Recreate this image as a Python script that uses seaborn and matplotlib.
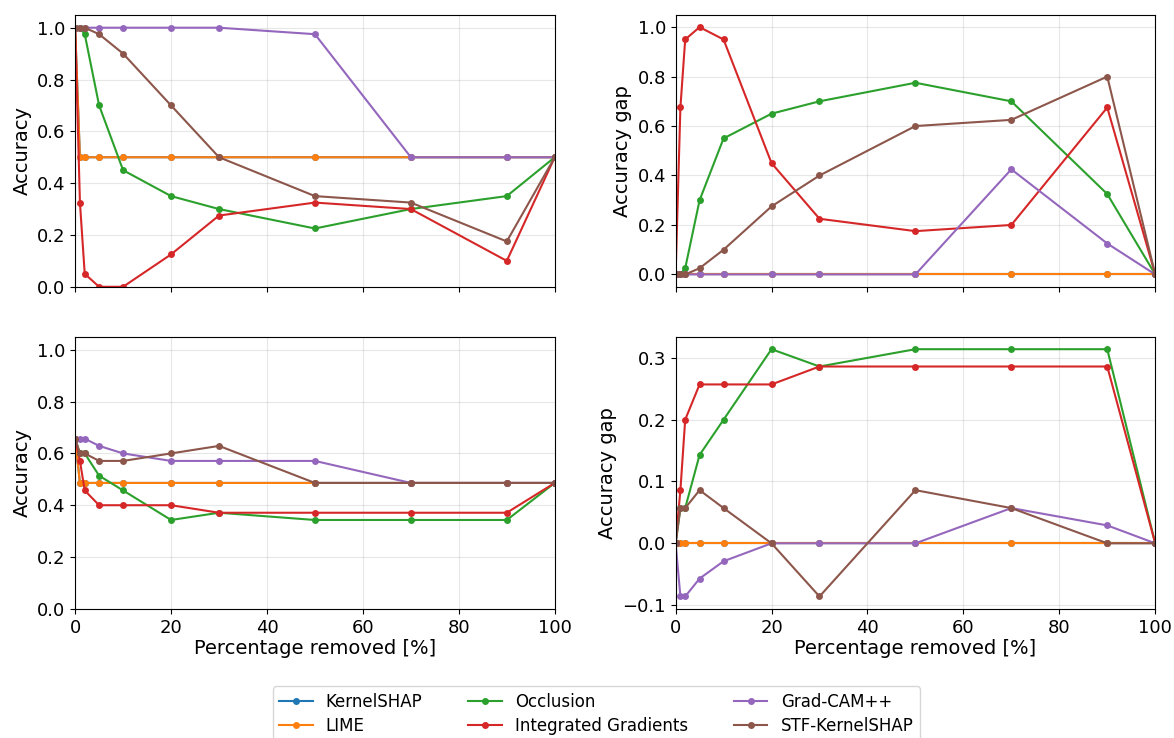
import numpy as np
import pandas as pd
import seaborn as sns
import matplotlib.pyplot as plt

# x positions (percentage of features removed)
pct = [0, 1, 2, 5, 10, 20, 30, 50, 70, 90, 100]
methods = ['KernelSHAP', 'LIME', 'Occlusion', 'Integrated Gradients', 'Grad-CAM++', 'STF-KernelSHAP']

# top-left: accuracy
acc_top = {
    'KernelSHAP': [1.0, 0.5, 0.5, 0.5, 0.5, 0.5, 0.5, 0.5, 0.5, 0.5, 0.5],
    'LIME': [1.0, 0.5, 0.5, 0.5, 0.5, 0.5, 0.5, 0.5, 0.5, 0.5, 0.5],
    'Occlusion': [1.0, 1.0, 0.975, 0.7, 0.45, 0.35, 0.3, 0.225, 0.3, 0.35, 0.5],
    'Integrated Gradients': [1.0, 0.325, 0.05, 0.0, 0.0, 0.125, 0.275, 0.325, 0.3, 0.1, 0.5],
    'Grad-CAM++': [1.0, 1.0, 1.0, 1.0, 1.0, 1.0, 1.0, 0.975, 0.5, 0.5, 0.5],
    'STF-KernelSHAP': [1.0, 1.0, 1.0, 0.975, 0.9, 0.7, 0.5, 0.35, 0.325, 0.175, 0.5],
}

# top-right: accuracy gap
gap_top = {
    'KernelSHAP': [0, 0, 0, 0, 0, 0, 0, 0, 0, 0, 0],
    'LIME': [0, 0, 0, 0, 0, 0, 0, 0, 0, 0, 0],
    'Occlusion': [0.0, 0.0, 0.025, 0.3, 0.55, 0.65, 0.7, 0.775, 0.7, 0.325, 0.0],
    'Integrated Gradients': [0.0, 0.675, 0.95, 1.0, 0.95, 0.45, 0.225, 0.175, 0.2, 0.675, 0.0],
    'Grad-CAM++': [0, 0, 0, 0, 0, 0, 0, 0, 0.425, 0.125, 0],
    'STF-KernelSHAP': [0.0, 0.0, 0.0, 0.025, 0.1, 0.275, 0.4, 0.6, 0.625, 0.8, 0.0],
}

# bottom-left: accuracy
acc_bot = {
    'KernelSHAP': [0.657, 0.486, 0.486, 0.486, 0.486, 0.486, 0.486, 0.486, 0.486, 0.486, 0.486],
    'LIME': [0.657, 0.486, 0.486, 0.486, 0.486, 0.486, 0.486, 0.486, 0.486, 0.486, 0.486],
    'Occlusion': [0.657, 0.6, 0.6, 0.514, 0.457, 0.343, 0.371, 0.343, 0.343, 0.343, 0.486],
    'Integrated Gradients': [0.657, 0.571, 0.457, 0.4, 0.4, 0.4, 0.371, 0.371, 0.371, 0.371, 0.486],
    'Grad-CAM++': [0.657, 0.657, 0.657, 0.629, 0.6, 0.571, 0.571, 0.571, 0.486, 0.486, 0.486],
    'STF-KernelSHAP': [0.657, 0.6, 0.6, 0.571, 0.571, 0.6, 0.629, 0.486, 0.486, 0.486, 0.486],
}

# bottom-right: accuracy gap
gap_bot = {
    'KernelSHAP': [0, 0, 0, 0, 0, 0, 0, 0, 0, 0, 0],
    'LIME': [0, 0, 0, 0, 0, 0, 0, 0, 0, 0, 0],
    'Occlusion': [0.0, 0.057, 0.057, 0.143, 0.2, 0.314, 0.286, 0.314, 0.314, 0.314, 0.0],
    'Integrated Gradients': [0.0, 0.086, 0.2, 0.257, 0.257, 0.257, 0.286, 0.286, 0.286, 0.286, 0.0],
    'Grad-CAM++': [0.0, -0.086, -0.086, -0.057, -0.029, 0.0, 0.0, 0.0, 0.057, 0.029, 0.0],
    'STF-KernelSHAP': [0.0, 0.057, 0.057, 0.086, 0.057, 0.0, -0.086, 0.086, 0.057, 0.0, 0.0],
}


def to_long(d):
    rows = []
    for m in methods:
        for x, y in zip(pct, d[m]):
            rows.append((m, x, y))
    return pd.DataFrame(rows, columns=['method', 'pct', 'value'])


palette = dict(zip(methods, sns.color_palette('tab10', 6)))

fig, axes = plt.subplots(2, 2, figsize=(11.74, 7.38), dpi=100, sharex=True)
fig.subplots_adjust(left=0.064, right=0.984, top=0.98, bottom=0.175, wspace=0.252, hspace=0.184)

panels = [(acc_top, 'Accuracy'), (gap_top, 'Accuracy gap'),
          (acc_bot, 'Accuracy'), (gap_bot, 'Accuracy gap')]

for ax, (d, ylabel) in zip(axes.flat, panels):
    sns.lineplot(data=to_long(d), x='pct', y='value', hue='method', hue_order=methods,
                 palette=palette, marker='o', markersize=5, markeredgewidth=0,
                 linewidth=1.5, ax=ax, legend=False)
    ax.set_xlim(0, 100)
    ax.set_xlabel('Percentage removed [%]', fontsize=14, labelpad=2)
    ax.set_ylabel(ylabel, fontsize=14)
    ax.tick_params(labelsize=13)
    ax.grid(alpha=0.3)

axes[0, 0].set_ylim(0, 1.05)
axes[1, 0].set_ylim(0, 1.05)
axes[0, 0].tick_params(labelbottom=False)
axes[0, 1].tick_params(labelbottom=False)

handles = [plt.Line2D([], [], color=palette[m], marker='o', markersize=4, linewidth=1.5)
           for m in methods]
fig.legend(handles, methods, loc='upper center', bbox_to_anchor=(0.508, 0.0815),
           ncol=3, fontsize=12, columnspacing=2.75, labelspacing=0.35)

plt.savefig('out.png', dpi=100)
plt.close()
